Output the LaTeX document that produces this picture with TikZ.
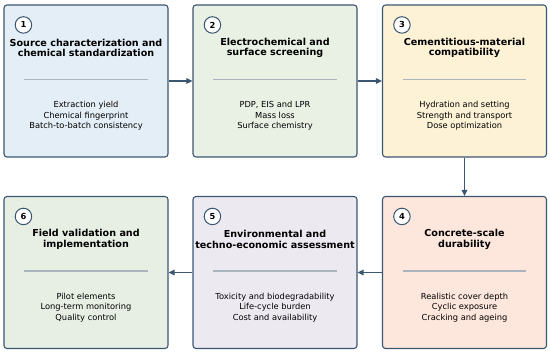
\documentclass[tikz,border=0pt]{standalone}
\usepackage{fontspec}
\setmainfont{DejaVu Sans}
\usetikzlibrary{arrows.meta,calc}
\definecolor{edgec}{HTML}{3B5670}
\definecolor{sepc}{HTML}{A9B4BC}
\definecolor{fa}{HTML}{E4EEF6}
\definecolor{fb}{HTML}{E9F0E4}
\definecolor{fc}{HTML}{FDF2D6}
\definecolor{fd}{HTML}{FDE6DC}
\definecolor{fe}{HTML}{ECE9F1}
\definecolor{ff}{HTML}{E7EFE4}
\tikzset{
  stagebox/.style={draw=edgec,line width=1.1pt,rounded corners=3pt,minimum width=164pt,minimum height=152pt,inner sep=0pt},
  numc/.style={circle,draw=edgec,fill=white,line width=1pt,minimum size=16.5pt,inner sep=0pt,font=\bfseries\fontsize{8.3}{9}\selectfont},
  titletext/.style={align=center,inner sep=0pt,font=\bfseries\fontsize{9.6}{10.4}\selectfont},
  bodytext/.style={align=center,inner sep=0pt,font=\fontsize{8.3}{10.5}\selectfont},
  sepline/.style={draw=sepc,line width=1.2pt},
  flow/.style={draw=edgec,line width=1.2pt,-{Triangle[length=6pt,width=5.5pt]}}
}
\newcommand{\stage}[6]{%
  \node[stagebox,fill=#3] (b#1) at (#2) {};
  \node[numc] (n#1) at ($(b#1.north west)+(20,20.5)$) {#4};
  \node[titletext] (t#1) at ($(b#1.north)+(0,43.5)$) {#5};
  \coordinate (sl#1) at ($(b#1.north west)+(21,75)$);
  \coordinate (sr#1) at ($(b#1.north east)+(-21,75)$);
  \draw[sepline] (sl#1) -- (sr#1);
  \node[bodytext] (d#1) at ($(b#1.north)+(0,111.5)$) {#6};
}
\begin{document}
\begin{tikzpicture}[x=1pt,y=-1pt]
\useasboundingbox (0,0) rectangle (550,353);
\stage{1}{86,81}{fa}{1}{Source characterization and\\chemical standardization}{Extraction yield\\Chemical fingerprint\\Batch-to-batch consistency}
\stage{2}{275,81}{fb}{2}{Electrochemical and\\surface screening}{PDP, EIS and LPR\\Mass loss\\Surface chemistry}
\stage{3}{464.5,81}{fc}{3}{Cementitious-material\\compatibility}{Hydration and setting\\Strength and transport\\Dose optimization}
\stage{4}{464.5,272.5}{fd}{4}{Concrete-scale\\durability}{Realistic cover depth\\Cyclic exposure\\Cracking and ageing}
\stage{5}{275,272.5}{fe}{5}{Environmental and\\techno-economic assessment}{Toxicity and biodegradability\\Life-cycle burden\\Cost and availability}
\stage{6}{86,272.5}{ff}{6}{Field validation and\\implementation}{Pilot elements\\Long-term monitoring\\Quality control}
\draw[flow] (b1.east) -- (b2.west);
\draw[flow] (b2.east) -- (b3.west);
\draw[flow] (b3.south) -- (b4.north);
\draw[flow] (b4.west) -- (b5.east);
\draw[flow] (b5.west) -- (b6.east);
\end{tikzpicture}
\end{document}
